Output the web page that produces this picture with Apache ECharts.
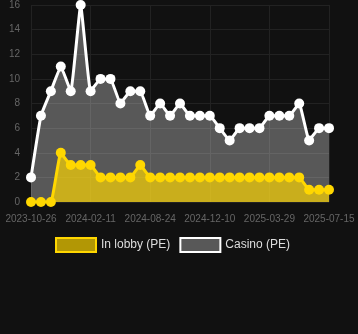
<!DOCTYPE html>
<html>
<head>
<meta charset="utf-8">
<script src="https://cdn.jsdelivr.net/npm/echarts@6/dist/echarts.min.js"></script>
<style>
html,body{margin:0;padding:0;background:#111111;}
#c{width:358px;height:334px;}
</style>
</head>
<body>
<div id="c"></div>
<script>
var dates = ['2023-10-26','2023-11-08','2023-11-22','2023-12-06','2023-12-20','2024-01-17','2024-02-11','2024-03-06','2024-04-02','2024-05-01','2024-06-05','2024-07-10','2024-08-24','2024-09-11','2024-09-27','2024-10-15','2024-11-02','2024-11-21','2024-12-10','2024-12-28','2025-01-15','2025-02-03','2025-02-22','2025-03-12','2025-03-29','2025-04-16','2025-05-04','2025-05-22','2025-06-09','2025-06-27','2025-07-15'];
var lobby = [0,0,0,4,3,3,3,2,2,2,2,3,2,2,2,2,2,2,2,2,2,2,2,2,2,2,2,2,1,1,1];
var casino = [2,7,9,11,9,16,9,10,10,8,9,9,7,8,7,8,7,7,7,6,5,6,6,6,7,7,7,8,5,6,6];
var yTicks = {min:0, max:16, interval:2};

var chart = echarts.init(document.getElementById('c'), null, {renderer:'canvas'});
chart.setOption({
  backgroundColor:'#111111',
  animation:false,
  grid:{left:31, right:29, top:5, bottom:132, containLabel:false},
  legend:{
    top:232, left:50, itemWidth:40, itemHeight:14, itemGap:9,
    textStyle:{color:'#dddddd', fontSize:12, fontFamily:'Arial, Liberation Sans, sans-serif'},
    data:[
      {name:'In lobby (PE)', icon:'rect', itemStyle:{color:'rgba(255,215,0,0.68)', borderColor:'#FFD700', borderWidth:2}},
      {name:'Casino (PE)', icon:'rect', itemStyle:{color:'rgba(255,255,255,0.3)', borderColor:'#ffffff', borderWidth:2}}
    ]
  },
  xAxis:{
    type:'category', data:dates, boundaryGap:false,
    axisLine:{show:false}, axisTick:{show:false},
    axisLabel:{color:'#666666', fontSize:10, interval:5, margin:12, fontFamily:'Arial, Liberation Sans, sans-serif'},
    splitLine:{show:true, interval:5, lineStyle:{color:'#222222', width:1}}
  },
  yAxis:{
    type:'value', min:yTicks.min, max:yTicks.max, interval:yTicks.interval,
    axisLine:{show:false}, axisTick:{show:false},
    axisLabel:{color:'#666666', fontSize:10, margin:11, fontFamily:'Arial, Liberation Sans, sans-serif'},
    splitLine:{lineStyle:{color:'#222222', width:1}}
  },
  series:[
    {name:'In lobby (PE)', type:'line', data:lobby, z:3, smooth:0.1,
     symbol:'circle', symbolSize:10, showSymbol:true, showAllSymbol:true,
     itemStyle:{color:'#FFD700'}, lineStyle:{color:'#FFD700', width:3},
     areaStyle:{color:'rgba(255,215,0,0.68)', opacity:1}},
    {name:'Casino (PE)', type:'line', data:casino, z:2, smooth:0.1,
     symbol:'circle', symbolSize:10, showSymbol:true, showAllSymbol:true,
     itemStyle:{color:'#ffffff'}, lineStyle:{color:'#ffffff', width:3},
     areaStyle:{color:'rgba(255,255,255,0.3)', opacity:1}}
  ]
});
</script>
</body>
</html>
